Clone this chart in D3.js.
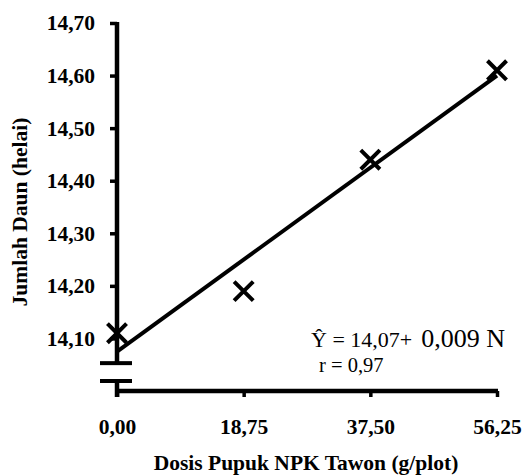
<!DOCTYPE html>
<html>
<head>
<meta charset="utf-8">
<script src="https://cdn.jsdelivr.net/npm/d3@7/dist/d3.min.js"></script>
<style>
  html, body { margin: 0; padding: 0; background: #fff; }
  svg { display: block; }
</style>
</head>
<body>
<svg id="chart" width="522" height="475"></svg>
<script>
// ---- data ----
const doses = [0, 18.75, 37.5, 56.25];
const leafCounts = [14.11, 14.19, 14.44, 14.61];
const xTicks = [0, 18.75, 37.5, 56.25];
const yTicks = [14.1, 14.2, 14.3, 14.4, 14.5, 14.6, 14.7];
const trendIntercept = 14.075;
const trendSlope = 0.00933;
const equationText = "Ŷ = 14,07+";
const equationCoef = "0,009 N";
const rText = "r = 0,97";
const xTitle = "Dosis Pupuk NPK Tawon (g/plot)";
const yTitle = "Jumlah Daun (helai)";

const fmt = v => v.toFixed(2).replace(".", ",");
const font = "'Liberation Serif', 'Times New Roman', serif";
const boldSize = 21.5;

const svg = d3.select("#chart");
const x = d3.scaleLinear().domain([0, 56.25]).range([117, 497]);
const y = d3.scaleLinear().domain([14.0, 14.7]).range([391, 23]);

// y axis ticks & labels
const yAxis = d3.axisLeft(y).tickValues(yTicks).tickSize(7).tickPadding(15).tickFormat(fmt);
const gy = svg.append("g").attr("transform", `translate(${x(0)},0)`).call(yAxis);
gy.select(".domain").remove();
gy.selectAll(".tick line").attr("stroke", "#000").attr("stroke-width", 3.5);
gy.selectAll(".tick text").attr("font-family", font).attr("font-weight", "bold")
  .attr("font-size", boldSize).attr("fill", "#000");

// x axis ticks & labels
const xAxis = d3.axisBottom(x).tickValues(xTicks).tickSize(6).tickPadding(22).tickFormat(fmt);
const gx = svg.append("g").attr("transform", `translate(0,${y(14.0)})`).call(xAxis);
gx.select(".domain").remove();
gx.selectAll(".tick line").attr("stroke", "#000").attr("stroke-width", 3.5);
gx.selectAll(".tick text").attr("font-family", font).attr("font-weight", "bold")
  .attr("font-size", boldSize).attr("fill", "#000");

// axis lines (with broken y-axis)
const breakTop = 14.053, breakBottom = 14.019;
svg.append("line").attr("x1", x(0)).attr("x2", x(0)).attr("y1", y(14.7) - 1).attr("y2", y(breakTop))
  .attr("stroke", "#000").attr("stroke-width", 4.5);
svg.append("line").attr("x1", x(0)).attr("x2", x(0)).attr("y1", y(breakBottom)).attr("y2", y(14.0) + 6)
  .attr("stroke", "#000").attr("stroke-width", 4.5);
svg.append("line").attr("x1", x(0) - 2).attr("x2", x(56.25) + 1).attr("y1", y(14.0)).attr("y2", y(14.0))
  .attr("stroke", "#000").attr("stroke-width", 4.5);
[breakTop, breakBottom].forEach(b => {
  svg.append("line").attr("x1", x(0) - 17).attr("x2", x(0) + 15).attr("y1", y(b)).attr("y2", y(b))
    .attr("stroke", "#000").attr("stroke-width", 4);
});

// trend line
const line = d3.line().x(d => x(d)).y(d => y(trendIntercept + trendSlope * d));
svg.append("path").datum([0, 56.25]).attr("d", line)
  .attr("fill", "none").attr("stroke", "#000").attr("stroke-width", 4);

// markers
const pts = doses.map((d, i) => [d, leafCounts[i]]);
svg.append("g").selectAll("path").data(pts).join("path")
  .attr("transform", d => `translate(${x(d[0])},${y(d[1])})`)
  .attr("d", d3.symbol(d3.symbolX, 240))
  .attr("fill", "none").attr("stroke", "#000").attr("stroke-width", 4);

// equation
const eq = svg.append("text").attr("x", 311).attr("y", 347)
  .attr("font-family", font).attr("fill", "#000");
eq.append("tspan").attr("font-size", 22).text(equationText);
eq.append("tspan").attr("dx", 9).attr("font-size", 26).text(equationCoef);
svg.append("text").attr("x", 319).attr("y", 372).attr("font-family", font)
  .attr("font-size", 20.5).attr("fill", "#000").text(rText);

// axis titles
svg.append("text").attr("x", 306).attr("y", 470).attr("text-anchor", "middle")
  .attr("font-family", font).attr("font-weight", "bold").attr("font-size", boldSize).attr("fill", "#000")
  .text(xTitle);
svg.append("text").attr("transform", "translate(27,212) rotate(-90)").attr("text-anchor", "middle")
  .attr("font-family", font).attr("font-weight", "bold").attr("font-size", boldSize).attr("fill", "#000")
  .text(yTitle);
</script>
</body>
</html>
